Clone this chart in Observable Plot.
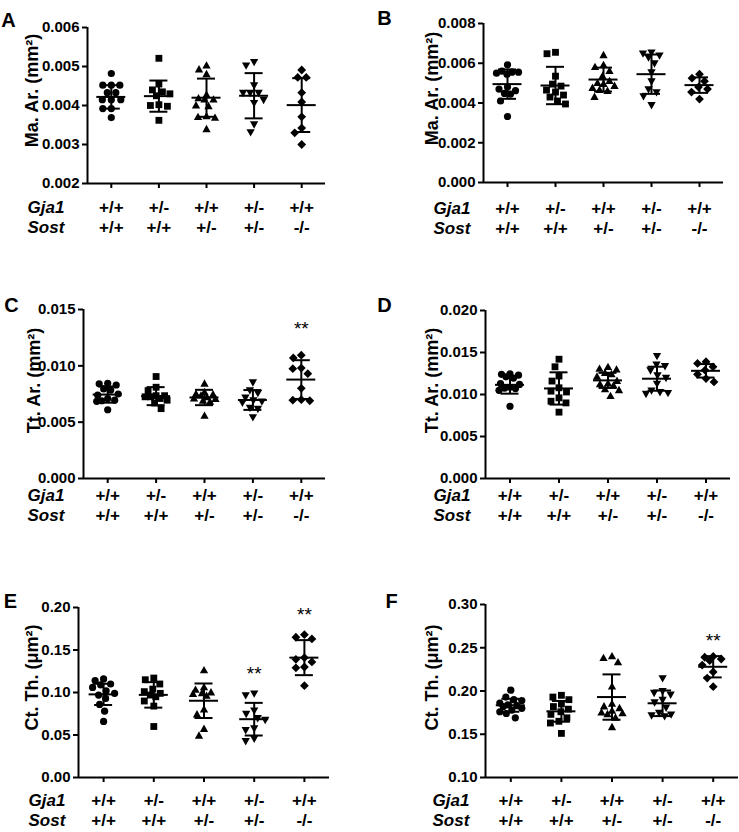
<!DOCTYPE html>
<html><head><meta charset="utf-8">
<script src="https://cdn.jsdelivr.net/npm/d3@7"></script>
<script src="https://cdn.jsdelivr.net/npm/@observablehq/plot@0.6"></script>
<style>
body{margin:0;background:#fff;}
#chart{position:relative;width:739px;height:832px;overflow:hidden;background:#fff;}
#chart svg{position:absolute;left:0;top:0;background:transparent;overflow:visible;}
</style></head>
<body><div id="chart"></div>
<script>
// ---------- categories ----------
const gja1 = ["+/+", "+/-", "+/+", "+/-", "+/+"];
const sost = ["+/+", "+/+", "+/-", "+/-", "-/-"];

// ---------- Panel A: Ma. Ar. (mm²) ----------
const maArA = [
  [0.00482,0.00452,0.00452,0.00452,0.00433,0.00433,0.00415,0.00415,0.00415,0.00392,0.00392,0.00369],
  [0.00521,0.00455,0.00440,0.00435,0.00430,0.00425,0.00402,0.00400,0.00398,0.00362],
  [0.00502,0.00492,0.00480,0.00427,0.00418,0.00415,0.00415,0.00400,0.00398,0.00372,0.00370,0.00368,0.00339],
  [0.00512,0.00503,0.00452,0.00433,0.00433,0.00433,0.00415,0.00407,0.00352,0.00332],
  [0.00491,0.00472,0.00472,0.00433,0.00409,0.00371,0.00342,0.00330,0.00300]
];
const meanA = [0.00422,0.00424,0.00420,0.00425,0.00401];
const sdA   = [0.00030,0.00040,0.00049,0.00058,0.00069];
const ticksA = [0.002,0.003,0.004,0.005,0.006];

// ---------- Panel B: Ma. Ar. (mm²) ----------
const maArB = [
  [0.00592,0.00560,0.00555,0.00555,0.00550,0.00545,0.00480,0.00470,0.00462,0.00448,0.00445,0.00410,0.00332],
  [0.00655,0.00648,0.00535,0.00495,0.00485,0.00465,0.00455,0.00440,0.00430,0.00410,0.00395],
  [0.00640,0.00590,0.00580,0.00560,0.00535,0.00510,0.00500,0.00495,0.00485,0.00475,0.00465,0.00460,0.00430],
  [0.00655,0.00650,0.00640,0.00630,0.00600,0.00555,0.00510,0.00470,0.00455,0.00435,0.00390],
  [0.00545,0.00525,0.00510,0.00480,0.00470,0.00455,0.00420]
];
const meanB = [0.00495,0.00488,0.00518,0.00545,0.00490];
const sdB   = [0.00074,0.00094,0.00060,0.00099,0.00039];
const ticksB = [0,0.002,0.004,0.006,0.008];

// ---------- Panel C: Tt. Ar. (mm²) ----------
const ttArC = [
  [0.00845,0.00840,0.00830,0.00795,0.00785,0.00750,0.00740,0.00710,0.00695,0.00690,0.00685,0.00610],
  [0.00905,0.00810,0.00780,0.00735,0.00725,0.00735,0.00725,0.00710,0.00695,0.00670,0.00620],
  [0.00840,0.00765,0.00750,0.00745,0.00735,0.00720,0.00710,0.00705,0.00690,0.00680,0.00555],
  [0.00855,0.00785,0.00760,0.00720,0.00695,0.00685,0.00675,0.00630,0.00620,0.00545],
  [0.01095,0.01070,0.00980,0.00975,0.00930,0.00800,0.00700,0.00695,0.00690]
];
const meanC = [0.00745,0.00731,0.00719,0.00697,0.00878];
const sdC   = [0.00072,0.00080,0.00068,0.00088,0.00172];
const ticksC = [0,0.005,0.010,0.015];
const sigC = [[5, 0.0136]];

// ---------- Panel D: Tt. Ar. (mm²) ----------
const ttArD = [
  [0.01245,0.01240,0.01230,0.01210,0.01195,0.01130,0.01120,0.01085,0.01075,0.01070,0.01050,0.00860],
  [0.01420,0.01330,0.01220,0.01160,0.01080,0.01040,0.01030,0.00960,0.00920,0.00900,0.00790],
  [0.01325,0.01305,0.01295,0.01255,0.01240,0.01210,0.01160,0.01130,0.01120,0.01105,0.01060,0.01050,0.00980],
  [0.01460,0.01360,0.01340,0.01290,0.01230,0.01200,0.01130,0.01050,0.01030,0.01020,0.01010],
  [0.01390,0.01370,0.01330,0.01290,0.01240,0.01190,0.01150]
];
const meanD = [0.01115,0.01072,0.01168,0.01188,0.01282];
const sdD   = [0.00105,0.00192,0.00090,0.00143,0.00080];
const ticksD = [0,0.005,0.010,0.015,0.020];

// ---------- Panel E: Ct. Th. (µm²) ----------
const ctThE = [
  [0.116,0.114,0.110,0.109,0.106,0.102,0.099,0.097,0.093,0.086,0.078,0.066],
  [0.117,0.115,0.110,0.104,0.101,0.099,0.097,0.095,0.090,0.084,0.060],
  [0.126,0.106,0.103,0.100,0.099,0.098,0.096,0.080,0.074,0.057,0.049],
  [0.099,0.097,0.079,0.075,0.070,0.068,0.058,0.056,0.046,0.043],
  [0.168,0.165,0.163,0.141,0.139,0.136,0.130,0.129,0.108]
];
const meanE = [0.0978,0.0972,0.0903,0.0686,0.1410];
const sdE   = [0.0125,0.0150,0.0203,0.0192,0.0206];
const ticksE = [0,0.05,0.10,0.15,0.20];
const sigE = [[4, 0.127],[5, 0.1965]];

// ---------- Panel F: Ct. Th. (µm²) ----------
const ctThF = [
  [0.201,0.193,0.190,0.189,0.186,0.184,0.183,0.182,0.180,0.178,0.176,0.174,0.169],
  [0.195,0.193,0.190,0.185,0.182,0.179,0.176,0.173,0.169,0.165,0.163,0.151],
  [0.240,0.238,0.233,0.205,0.185,0.182,0.180,0.177,0.175,0.174,0.173,0.169,0.158],
  [0.215,0.200,0.198,0.196,0.190,0.187,0.181,0.175,0.173,0.172,0.171],
  [0.240,0.239,0.237,0.235,0.230,0.222,0.215,0.205]
];
const meanF = [0.1835,0.1765,0.1930,0.1858,0.2280];
const sdF   = [0.0075,0.0120,0.0262,0.0148,0.0123];
const ticksF = [0.10,0.15,0.20,0.25,0.30];
const sigF = [[5, 0.262]];

// ---------- symbols ----------
const R = 3.6;
const rad = s => Math.sqrt(s / Math.PI);
const shapes = [
  {draw(c, s) { const r = rad(s); c.moveTo(r, 0); c.arc(0, 0, r, 0, 2 * Math.PI); c.closePath(); }},
  {draw(c, s) { const r = rad(s) * 0.95; c.rect(-r, -r, 2 * r, 2 * r); }},
  {draw(c, s) { const r = rad(s); c.moveTo(0, -1.25 * r); c.lineTo(1.15 * r, 0.8 * r); c.lineTo(-1.15 * r, 0.8 * r); c.closePath(); }},
  {draw(c, s) { const r = rad(s); c.moveTo(0, 1.25 * r); c.lineTo(1.15 * r, -0.8 * r); c.lineTo(-1.15 * r, -0.8 * r); c.closePath(); }},
  {draw(c, s) { const r = rad(s) * 1.22; c.moveTo(0, -r); c.lineTo(r, 0); c.lineTo(0, r); c.lineTo(-r, 0); c.closePath(); }}
];

// ---------- panels ----------
const panels = [
  {letter:"A", values:maArA, mean:meanA, sd:sdA, ticks:ticksA, fmt:".3f", title:"Ma. Ar. (mm²)", sig:[],
   L:{x0:87, x1:325, y0:27, y1:183, lx:8, ly:12, tx:25, ty:90, gx:27, r1:212, r2:232}},
  {letter:"B", values:maArB, mean:meanB, sd:sdB, ticks:ticksB, fmt:".3f", title:"Ma. Ar. (mm²)", sig:[],
   L:{x0:483, x1:723, y0:23, y1:182, lx:384, ly:10, tx:425, ty:88, gx:433, r1:213, r2:233}},
  {letter:"C", values:ttArC, mean:meanC, sd:sdC, ticks:ticksC, fmt:".3f", title:"Tt. Ar. (mm²)", sig:sigC,
   L:{x0:83, x1:325, y0:309, y1:478, lx:11, ly:297, tx:27, ty:380, gx:27, r1:500, r2:520}},
  {letter:"D", values:ttArD, mean:meanD, sd:sdD, ticks:ticksD, fmt:".3f", title:"Tt. Ar. (mm²)", sig:[],
   L:{x0:485, x1:730, y0:310, y1:478, lx:384, ly:297, tx:425, ty:380, gx:433, r1:500, r2:520}},
  {letter:"E", values:ctThE, mean:meanE, sd:sdE, ticks:ticksE, fmt:".2f", title:"Ct. Th. (μm²)", sig:sigE,
   L:{x0:78, x1:329, y0:607, y1:777, lx:10, ly:593, tx:25, ty:677, gx:28, r1:805, r2:825}},
  {letter:"F", values:ctThF, mean:meanF, sd:sdF, ticks:ticksF, fmt:".2f", title:"Ct. Th. (μm²)", sig:sigF,
   L:{x0:485, x1:738, y0:604, y1:777, lx:391, ly:593, tx:425, ty:677, gx:432, r1:805, r2:825}}
];

const W = 739, H = 832;
const FONT = "'Liberation Sans', Arial, Helvetica, sans-serif";

// horizontal spreading like a GraphPad scatter dot plot, limited to a narrow band
function swarm(vals, y, ppu, g) {
  const D = 2 * R + 1.2, MAXOFF = 11;
  const pts = vals.map(v => ({v, py: y(v), ox: 0}));
  const order = pts.slice().sort((a, b) => a.py - b.py);
  const placed = [];
  const cands = d3.range(-MAXOFF, MAXOFF + 0.01, 0.5).sort((a, b) => Math.abs(a) - Math.abs(b) || a - b);
  for (const p of order) {
    let best = null, bestScore = -Infinity;
    for (const c of cands) {
      let minD = Infinity;
      for (const q of placed) minD = Math.min(minD, Math.hypot(q.ox - c, q.py - p.py));
      if (minD >= D) { best = c; break; }
      if (minD > bestScore + 0.3) { bestScore = minD; best = c; }
    }
    p.ox = best;
    placed.push(p);
  }
  return pts.map(p => ({x: g + p.ox / ppu, v: p.v}));
}

const chart = document.getElementById("chart");

for (const p of panels) {
  const L = p.L;
  const domain = [p.ticks[0], p.ticks[p.ticks.length - 1]];
  const y = d3.scaleLinear(domain, [L.y1, L.y0]);
  const ppu = (L.x1 - L.x0) / 5;
  const mh = 14.5 / ppu, ch = 9 / ppu;
  const stats = p.mean.map((m, i) => ({g: i + 1, m, s: p.sd[i]}));
  const groupsIdx = gja1.map((d, i) => i + 1);

  const dots = p.values.map((vals, gi) =>
    Plot.dot(swarm(vals, y, ppu, gi + 1), {x: "x", y: "v", symbol: shapes[gi], r: R, fill: "black", stroke: "none"}));

  const txt = {fontFamily: FONT, fill: "black"};

  const svg = Plot.plot({
    width: W, height: H,
    marginLeft: L.x0, marginRight: W - L.x1, marginTop: L.y0, marginBottom: H - L.y1,
    x: {type: "linear", domain: [0.5, 5.5]},
    y: {type: "linear", domain},
    style: {background: "transparent", overflow: "visible", color: "black", fontFamily: FONT},
    marks: [
      Plot.axisY({ticks: p.ticks, tickFormat: d3.format(p.fmt), tickSize: 5, tickPadding: 3,
                  strokeWidth: 2, fontSize: 15, fontWeight: "bold", fontFamily: FONT, label: null}),
      Plot.axisX({ticks: groupsIdx, tickFormat: () => "", tickSize: 5, strokeWidth: 2, label: null}),
      Plot.ruleX([0.5], {strokeWidth: 2, stroke: "black"}),
      Plot.ruleY([domain[0]], {strokeWidth: 2, stroke: "black"}),
      ...dots,
      Plot.ruleY(stats, {y: "m", x1: d => d.g - mh, x2: d => d.g + mh, strokeWidth: 2, stroke: "black"}),
      Plot.ruleX(stats, {x: "g", y1: d => d.m - d.s, y2: d => d.m + d.s, strokeWidth: 2, stroke: "black"}),
      Plot.ruleY(stats, {y: d => d.m + d.s, x1: d => d.g - ch, x2: d => d.g + ch, strokeWidth: 2, stroke: "black"}),
      Plot.ruleY(stats, {y: d => d.m - d.s, x1: d => d.g - ch, x2: d => d.g + ch, strokeWidth: 2, stroke: "black"}),
      Plot.text(p.sig, {x: d => d[0], y: d => d[1], text: () => "**", fontSize: 19, dy: 4, ...txt}),
      // genotype rows
      Plot.text(gja1, {x: (d, i) => i + 1, text: d => d, frameAnchor: "bottom", dy: L.r1 - L.y1,
                       fontSize: 17, fontWeight: "bold", ...txt}),
      Plot.text(sost, {x: (d, i) => i + 1, text: d => d, frameAnchor: "bottom", dy: L.r2 - L.y1,
                       fontSize: 17, fontWeight: "bold", ...txt}),
      Plot.text(["Gja1"], {text: d => d, frameAnchor: "bottom-left", dx: L.gx - L.x0, dy: L.r1 - L.y1,
                           textAnchor: "start", fontSize: 17, fontWeight: "bold", fontStyle: "italic", ...txt}),
      Plot.text(["Sost"], {text: d => d, frameAnchor: "bottom-left", dx: L.gx - L.x0, dy: L.r2 - L.y1,
                           textAnchor: "start", fontSize: 17, fontWeight: "bold", fontStyle: "italic", ...txt}),
      // y title
      Plot.text([p.title], {text: d => d, frameAnchor: "top-left", dx: L.tx - L.x0, dy: L.ty - L.y0,
                            rotate: -90, textAnchor: "middle", fontSize: 18, fontWeight: "bold", ...txt}),
      // panel letter
      Plot.text([p.letter], {text: d => d, frameAnchor: "top-left", dx: L.lx - L.x0, dy: L.ly - L.y0,
                             textAnchor: "middle", fontSize: 20, fontWeight: "bold", ...txt})
    ]
  });
  chart.appendChild(svg);
}
</script>
</body></html>
